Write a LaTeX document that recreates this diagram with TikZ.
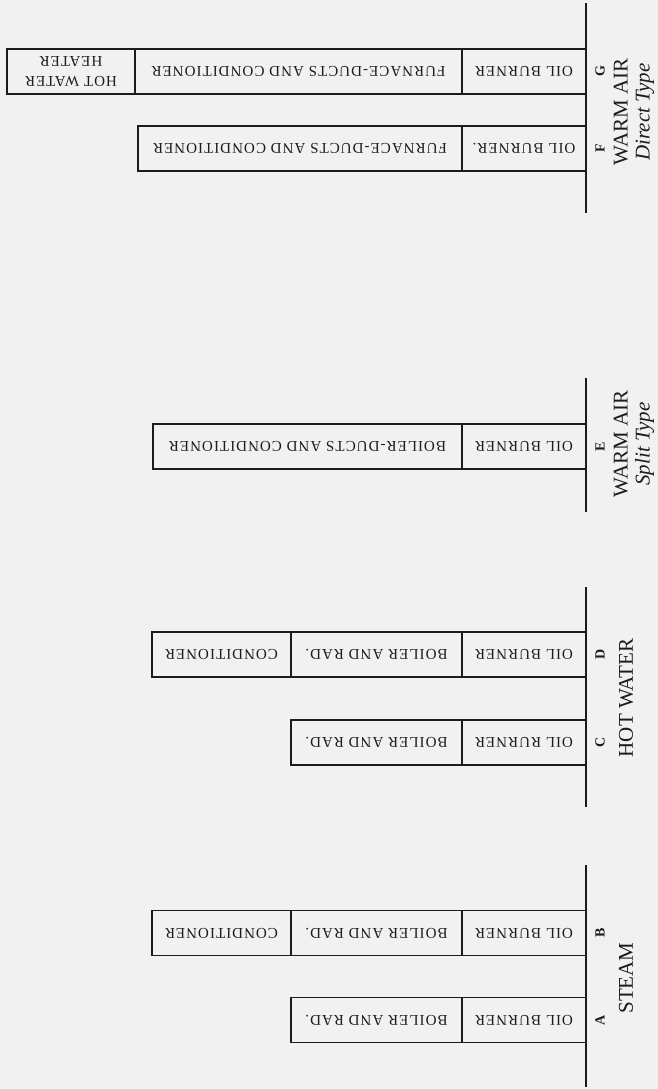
\documentclass[tikz,border=0pt]{standalone}
\usepackage{fontspec}
\setmainfont{Liberation Serif}
\usepackage{tikz}
\definecolor{paper}{RGB}{241,241,241}
\definecolor{ink}{RGB}{28,28,28}

\begin{document}
\begin{tikzpicture}[x=0.5pt, y=-0.5pt,
  part/.style={draw=ink, line width=0.8pt, rotate=180, inner sep=0pt, minimum height=22.5pt,
    align=center, text=ink, font=\fontsize{7.5}{10}\selectfont\addfontfeatures{LetterSpace=7}},
  tag/.style={rotate=90, text=ink, font=\fontsize{7}{8}\selectfont\bfseries},
  group/.style={rotate=90, align=center, text=ink, font=\fontsize{10.5}{11}\selectfont},
  axis/.style={draw=ink, line width=0.9pt}]
  \fill[paper] (0,0) rectangle (658,1089);
  \useasboundingbox (0,0) rectangle (658,1089);

  % Base lines
  \draw[axis] (586,865) -- (586,1087);
  \draw[axis] (586,587) -- (586,807);
  \draw[axis] (586,378) -- (586,512);
  \draw[axis] (586,3) -- (586,213);

  % Steam
  \node[part, minimum width=62pt] (burnerA) at (524,1020) {OIL BURNER};
  \node[part, minimum width=85.5pt] (boilerA) at (376.5,1020) {BOILER AND RAD.};
  \node[part, minimum width=62pt] (burnerB) at (524,933) {OIL BURNER};
  \node[part, minimum width=85.5pt] (boilerB) at (376.5,933) {BOILER AND RAD.};
  \node[part, minimum width=69.5pt] (condB) at (221.5,933) {CONDITIONER};
  \node[tag] (tagA) at (600,1020) {A};
  \node[tag] (tagB) at (600,933) {B};
  \node[group] (steam) at (626,978) {STEAM};

  % Hot water
  \node[part, minimum width=62pt] (burnerC) at (524,742.5) {OIL RURNER};
  \node[part, minimum width=85.5pt] (boilerC) at (376.5,742.5) {BOILER AND RAD.};
  \node[part, minimum width=62pt] (burnerD) at (524,654.5) {OIL BURNER};
  \node[part, minimum width=85.5pt] (boilerD) at (376.5,654.5) {BOILER AND RAD.};
  \node[part, minimum width=69.5pt] (condD) at (221.5,654.5) {CONDITIONER};
  \node[tag] (tagC) at (600,742.5) {C};
  \node[tag] (tagD) at (600,654.5) {D};
  \node[group] (hotwater) at (626,698) {HOT WATER};

  % Warm air, split type
  \node[part, minimum width=62pt] (burnerE) at (524,446.5) {OIL BURNER};
  \node[part, minimum width=154.5pt] (ductsE) at (307.5,446.5) {BOILER-DUCTS AND CONDITIONER};
  \node[tag] (tagE) at (600,446.5) {E};
  \node[group] (split) at (634,444) {WARM AIR\\\textit{Split Type}};

  % Warm air, direct type
  \node[part, minimum width=62pt] (burnerF) at (524,148.5) {OIL BURNER.};
  \node[part, minimum width=162pt] (ductsF) at (300,148.5) {FURNACE-DUCTS AND CONDITIONER};
  \node[part, minimum width=62pt] (burnerG) at (524,71.5) {OIL BURNER};
  \node[part, minimum width=163.5pt] (ductsG) at (298.5,71.5) {FURNACE-DUCTS AND CONDITIONER};
  \node[part, minimum width=64pt] (heaterG) at (71,71.5) {HOT WATER\\HEATER};
  \node[tag] (tagF) at (600,148.5) {F};
  \node[tag] (tagG) at (600,71.5) {G};
  \node[group] (direct) at (634,112) {WARM AIR\\\textit{Direct Type}};
\end{tikzpicture}
\end{document}
